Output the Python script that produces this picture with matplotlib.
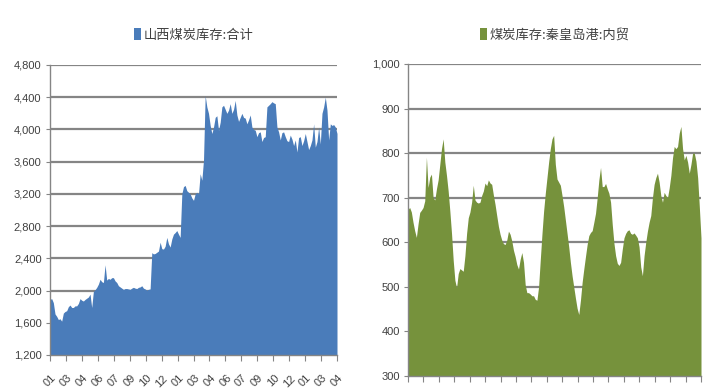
import numpy as np
import matplotlib
matplotlib.use("Agg")
import matplotlib.pyplot as plt
from matplotlib.patches import Patch

plt.rcParams['font.family'] = ['Liberation Sans', 'Noto Sans CJK SC', 'DejaVu Sans']

# ---- data ----
shanxi_title = "山西煤炭库存:合计"
qhd_title = "煤炭库存:秦皇岛港:内贸"

shanxi_values = [
    1890, 1900, 1850, 1710, 1680, 1640, 1650, 1620, 1720, 1740, 1750, 1800, 1820, 1790, 1790, 1810,
    1810, 1840, 1900, 1880, 1870, 1890, 1905, 1920, 1955, 1790, 1990, 2010, 2040, 2080, 2140, 2110,
    2100, 2320, 2130, 2150, 2140, 2160, 2160, 2120, 2100, 2060, 2045, 2030, 2015, 2025, 2025, 2020,
    2015, 2030, 2040, 2030, 2025, 2040, 2045, 2060, 2030, 2020, 2005, 2015, 2020, 2470, 2455, 2460,
    2475, 2490, 2600, 2520, 2515, 2550, 2660, 2580, 2540, 2640, 2700, 2720, 2745, 2700, 2660, 3200,
    3290, 3305, 3240, 3220, 3200, 3150, 3120, 3200, 3220, 3200, 3450, 3370, 3620, 4420, 4280, 4200,
    4050, 3950, 4030, 4150, 4170, 3990, 4090, 4280, 4300, 4250, 4200, 4240, 4320, 4200, 4250, 4360,
    4180, 4100, 4150, 4200, 4150, 4140, 4070, 4120, 4180, 4030, 4000, 3990, 3910, 3960, 3970, 3850,
    3900, 3910, 4280, 4300, 4320, 4345, 4330, 4320, 4030, 3970, 3870, 3960, 3970, 3910, 3860, 3850,
    3930, 3880, 3800, 3870, 3720, 3900, 3910, 3800, 3860, 3950, 3850, 3750, 3800, 3870, 4070, 3780,
    3850, 4030, 3820, 4200, 4280, 4400, 4240, 3870, 4070, 4050, 4060, 4030, 3950,
]

qhd_values = [
    674, 678, 668, 645, 626, 611, 641, 667, 672, 678, 693, 791, 723, 746, 753, 700,
    695, 720, 740, 775, 810, 832, 780, 750, 715, 670, 620, 560, 515, 498, 530, 541,
    538, 535, 570, 620, 655, 668, 690, 728, 695, 690, 688, 690, 705, 715, 733, 727,
    740, 733, 730, 706, 685, 660, 636, 618, 605, 597, 595, 605, 625, 618, 603, 582,
    568, 550, 540, 562, 577, 555, 505, 487, 487, 484, 480, 480, 472, 470, 500, 560,
    618, 670, 710, 745, 780, 810, 832, 840, 775, 742, 735, 728, 705, 680, 650, 620,
    590, 555, 525, 500, 475, 452, 438, 470, 510, 540, 568, 595, 615, 622, 626, 645,
    665, 700, 740, 768, 725, 725, 732, 720, 710, 690, 640, 598, 570, 553, 548, 555,
    585, 610, 620, 626, 628, 620, 618, 621, 616, 610, 590, 545, 525, 570, 600, 625,
    645, 660, 700, 730, 745, 755, 735, 705, 690, 712, 705, 700, 722, 750, 790, 815,
    810, 815, 845, 860, 810, 785, 795, 780, 755, 775, 800, 800, 782, 745, 680, 610,
]

shanxi_ticklabels = ["01", "03", "04", "06", "07", "09", "10", "12", "01", "03",
                     "04", "06", "07", "09", "10", "12", "01", "03", "04"]
shanxi_yticks = [1200, 1600, 2000, 2400, 2800, 3200, 3600, 4000, 4400, 4800]
qhd_yticks = [300, 400, 500, 600, 700, 800, 900, 1000]
qhd_nticks = 20

BLUE = "#4A7CBA"
GREEN = "#76923C"
GRID = "#858585"
TXT = "#404040"

fig = plt.figure(figsize=(7.2, 3.92), dpi=100)
fig.patch.set_facecolor("white")

ax1 = fig.add_axes([50/720, 1-355/392, 287/720, 290/392])
ax2 = fig.add_axes([408/720, 1-376/392, 293/720, 312/392])


def style(ax, ymin, ymax, yticks, xmax, nxt, xlabels):
    ax.set_ylim(ymin, ymax)
    ax.set_xlim(0, xmax)
    ax.set_yticks(yticks)
    ax.set_yticklabels([f"{v:,}" for v in yticks])
    ax.yaxis.grid(True, color=GRID, linewidth=1.6, zorder=0)
    ax.set_axisbelow(True)
    for s in ("top", "right"):
        ax.spines[s].set_visible(False)
    for s in ("left", "bottom"):
        ax.spines[s].set_color(GRID)
        ax.spines[s].set_linewidth(1.0)
    ax.tick_params(axis="y", length=3, color=GRID, labelsize=8, labelcolor=TXT, pad=3)
    ax.tick_params(axis="x", length=4, color=GRID, labelsize=8, labelcolor=TXT, pad=9)
    xt = np.linspace(0, xmax, nxt)
    ax.set_xticks(xt)
    if xlabels is None:
        ax.set_xticklabels([""] * nxt)
    else:
        ax.set_xticklabels(xlabels, rotation=45, ha="center", va="top")


x1 = np.arange(len(shanxi_values))
ax1.fill_between(x1, 1200, shanxi_values, color=BLUE, linewidth=0, zorder=2)
style(ax1, 1200, 4800, shanxi_yticks, len(shanxi_values) - 1, len(shanxi_ticklabels), shanxi_ticklabels)

x2 = np.arange(len(qhd_values))
ax2.fill_between(x2, 300, qhd_values, color=GREEN, linewidth=0, zorder=2)
style(ax2, 300, 1000, qhd_yticks, len(qhd_values) - 1, qhd_nticks, None)

for ax, title, col, yoff in ((ax1, shanxi_title, BLUE, 1.103), (ax2, qhd_title, GREEN, 1.093)):
    leg = ax.legend(handles=[Patch(facecolor=col, edgecolor="none", label=title)],
                    loc="center", bbox_to_anchor=(0.5, yoff), frameon=False,
                    handlelength=0.55, handleheight=1.0, handletextpad=0.15,
                    prop={"family": ["Noto Sans CJK SC", "DejaVu Sans"], "size": 9.5},
                    labelcolor=TXT)

fig.savefig("out.png", dpi=100, facecolor="white")
